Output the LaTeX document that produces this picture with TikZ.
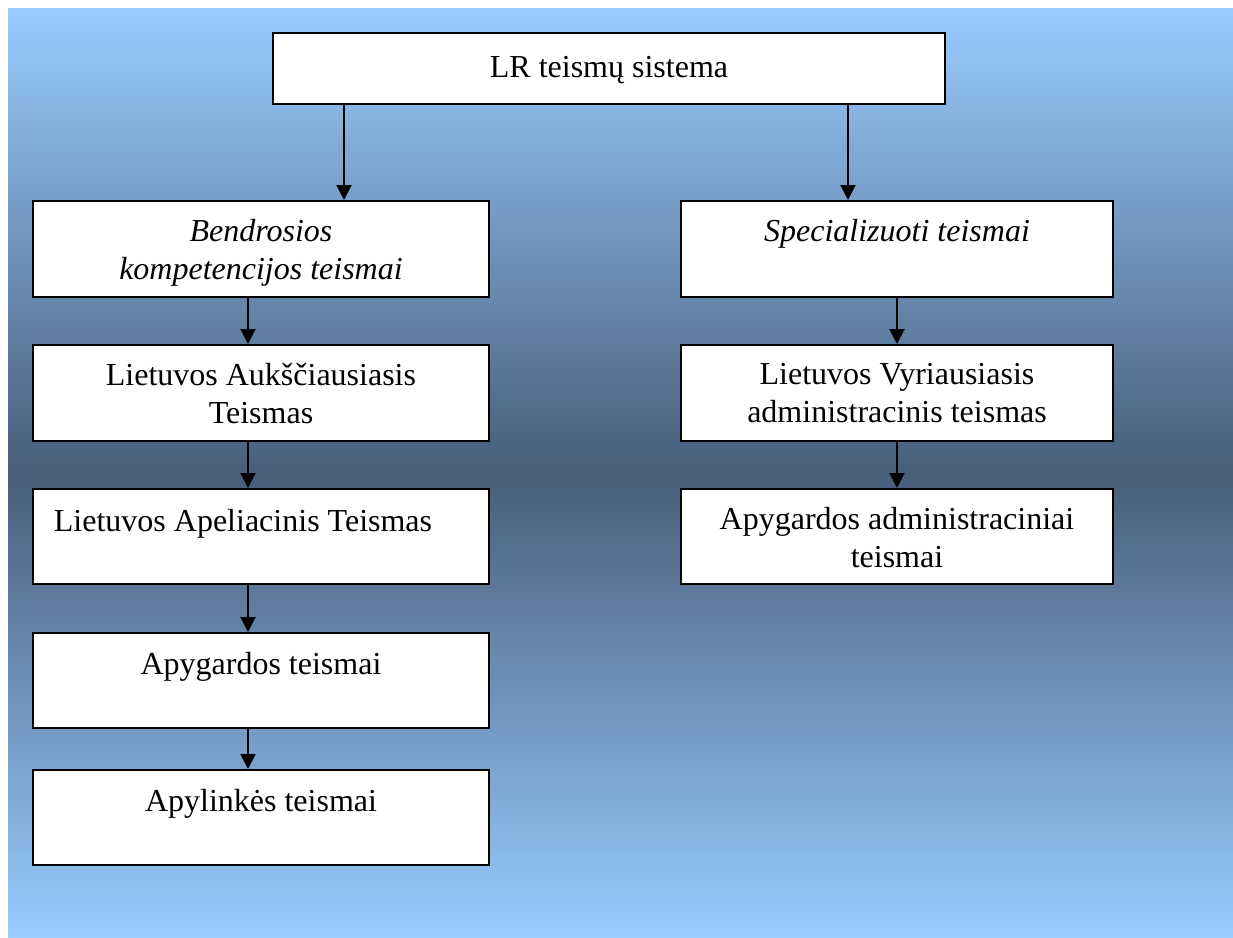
\documentclass[tikz,border=0pt]{standalone}
\usepackage{fontspec}
\setmainfont{Liberation Serif}
\usetikzlibrary{arrows.meta}

\definecolor{skyblue}{RGB}{153,204,255}
\definecolor{duskblue}{RGB}{72,94,122}

% box text: width, height, text (optional: first baseline from top)
\newcommand{\courttext}[4][40pt]{\parbox[t][#3][t]{#2}{\centering\rule{0pt}{#1}#4}}

\begin{document}
\begin{tikzpicture}[x=1pt,y=-1pt,
        court/.style={draw,line width=2pt,fill=white,inner sep=0pt,anchor=north west,
                      font=\fontsize{32}{38.5}\selectfont},
        arr/.style={-{Triangle[length=15pt,width=15pt]},line width=2pt}]

                   \useasboundingbox (0,0) rectangle (1233,937);
                   \shade[top color=skyblue,bottom color=skyblue,middle color=duskblue]
                         (8,8) rectangle (1233,937);

                   % top
                   \node[court] (lr) at (272,32) {\courttext[44pt]{672pt}{71pt}{LR teismų sistema}};

                   % left column
                   \node[court] (bend) at (32,200) {\courttext{456pt}{96pt}{\itshape Bendrosios\\kompetencijos teismai}};
                   \node[court] (auks) at (32,344) {\courttext{456pt}{96pt}{Lietuvos Aukščiausiasis\\Teismas}};
                   \node[court] (apel) at (32,488) {\courttext[42pt]{456pt}{95pt}{Lietuvos Apeliacinis Teismas\kern36pt}};
                   \node[court] (apyg) at (32,632) {\courttext[41pt]{456pt}{95pt}{Apygardos teismai}};
                   \node[court] (apyl) at (32,769) {\courttext[41pt]{456pt}{95pt}{Apylinkės teismai}};

                   % right column
                   \node[court] (spec) at (680,200) {\courttext{432pt}{96pt}{\itshape Specializuoti teismai}};
                   \node[court] (vyr) at (680,344) {\courttext[39pt]{432pt}{96pt}{Lietuvos Vyriausiasis\\administracinis teismas}};
                   \node[court] (apad) at (680,488) {\courttext{432pt}{95pt}{Apygardos administraciniai\\teismai}};

                   \coordinate (lsplit) at (344,0);
                   \coordinate (rsplit) at (848,0);
                   \coordinate (lcol) at (248,0);

                   \draw[arr] (lr.south -| lsplit) -- (bend.north -| lsplit);
                   \draw[arr] (lr.south -| rsplit) -- (spec.north -| rsplit);

                   \draw[arr] (bend.south -| lcol) -- (auks.north -| lcol);
                   \draw[arr] (auks.south -| lcol) -- (apel.north -| lcol);
                   \draw[arr] (apel.south -| lcol) -- (apyg.north -| lcol);
                   \draw[arr] (apyg.south -| lcol) -- (apyl.north -| lcol);

                   \draw[arr] (spec.south) -- (vyr.north);
                   \draw[arr] (vyr.south) -- (apad.north);

        \end{tikzpicture}
\end{document}
